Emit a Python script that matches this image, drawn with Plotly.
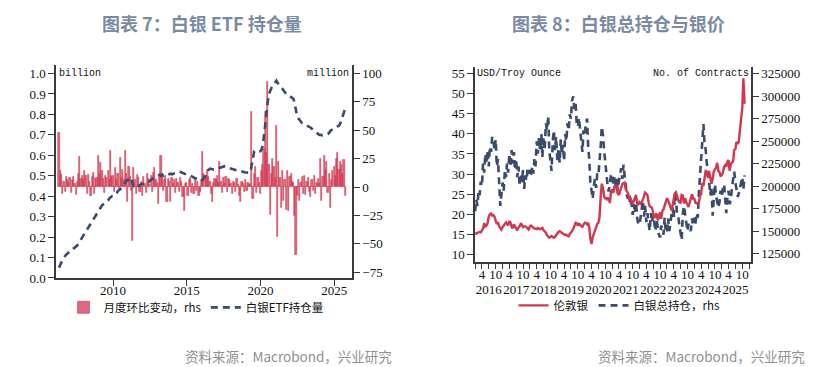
import pandas as pd
import plotly.graph_objects as go

# ---------------- Left chart: silver ETF holdings ----------------
etf_start = "2006-05-01"
# Monthly change of ETF holdings, million oz (rhs)
etf_change = [
    48, 14, 11, -6, 5, -4, 9, 6,
    4, 8, -5, 6, 9, 3, -7, 5, 12, 27, 7, 10,
    6, 14, 10, -6, 11, 5, -8, 9, 13, -6, 7, 8,
    28, 12, 21, 14, 7, -5, 10, 8, 14, 6, 32, 9,
    10, -4, 17, 6, 12, -3, 26, 8, 15, 6, 32, 12,
    -13, 18, 9, -3, -47, 17, 6, -6, 11, 8, -4, 5,
    -8, 9, 3, -5, 12, 7, 2, 10, -4, 13, 17, 6,
    4, -15, 9, 28, 12, -3, 6, 10, -13, 7, 5, -13,
    8, 3, 6, -5, 7, 4, -4, 8, 5, -9, -21, 3,
    4, -8, 6, 8, -5, 3, -6, 7, -3, 5, -8, -4,
    6, 31, 12, 8, 10, 15, 9, 5, -6, -13, 4, 7,
    6, 10, 4, 22, 5, -5, 8, 3, 9, -4, 7, 6,
    3, -6, 5, 4, -4, 7, 2, -8, -13, 5, 3, -4,
    6, -3, 4, 2, 3, 66, -10, 12, 18, -5, 8, 4,
    -6, 14, 20, 34, 66, 30, 93, 20, -24, 12, 25, 18,
    8, 54, -44, 22, 8, -18, 14, -12, 6, -20, 14, -21,
    9, 12, 5, 4, -25, -60, -8, 6, -12, 4, 9, -6,
    10, -7, 5, 8, -4, -9, 6, -3, 10, -6, 4, 7,
    3, 25, -12, 9, 28, 15, 22, -5, 12, -18, 6, 14,
    18, 10, 25, 30, 15, 22, 20, 12, 24, -8,
]
# Silver ETF holdings, billion oz (lhs)
etf_holdings = [
    0.05, 0.065, 0.08, 0.09, 0.10, 0.11, 0.115, 0.12,
    0.125, 0.13, 0.135, 0.14, 0.145, 0.15, 0.155, 0.16, 0.17, 0.18, 0.19, 0.20,
    0.21, 0.22, 0.225, 0.235, 0.245, 0.255, 0.265, 0.275, 0.29, 0.30, 0.31, 0.32,
    0.33, 0.34, 0.345, 0.355, 0.36, 0.365, 0.37, 0.375, 0.38, 0.39, 0.395, 0.40,
    0.40, 0.405, 0.41, 0.415, 0.425, 0.43, 0.435, 0.44, 0.45, 0.46, 0.47, 0.475,
    0.48, 0.48, 0.485, 0.49, 0.455, 0.45, 0.455, 0.46, 0.455, 0.45, 0.455, 0.46,
    0.46, 0.465, 0.465, 0.47, 0.47, 0.47, 0.475, 0.48, 0.485, 0.49, 0.495, 0.50,
    0.50, 0.502, 0.505, 0.50, 0.505, 0.50, 0.505, 0.507, 0.505, 0.507, 0.51, 0.51,
    0.507, 0.51, 0.512, 0.515, 0.515, 0.517, 0.52, 0.518, 0.515, 0.513, 0.51, 0.508,
    0.505, 0.503, 0.50, 0.50, 0.498, 0.495, 0.49, 0.487, 0.485, 0.482, 0.48, 0.477,
    0.475, 0.48, 0.49, 0.50, 0.51, 0.52, 0.53, 0.535, 0.535, 0.532, 0.53, 0.53,
    0.532, 0.535, 0.537, 0.54, 0.54, 0.542, 0.545, 0.547, 0.547, 0.545, 0.54, 0.537,
    0.535, 0.533, 0.53, 0.53, 0.528, 0.526, 0.525, 0.525, 0.522, 0.52, 0.518, 0.517,
    0.516, 0.515, 0.515, 0.515, 0.52, 0.55, 0.59, 0.62, 0.625, 0.625, 0.622, 0.62,
    0.62, 0.63, 0.65, 0.70, 0.76, 0.80, 0.86, 0.90, 0.92, 0.93, 0.94, 0.95,
    0.96, 0.965, 0.955, 0.945, 0.935, 0.93, 0.925, 0.915, 0.905, 0.90, 0.90, 0.895,
    0.89, 0.885, 0.88, 0.875, 0.85, 0.81, 0.79, 0.78, 0.77, 0.762, 0.757, 0.755,
    0.752, 0.748, 0.745, 0.742, 0.738, 0.735, 0.73, 0.725, 0.72, 0.715, 0.71, 0.705,
    0.70, 0.70, 0.698, 0.70, 0.70, 0.70, 0.702, 0.705, 0.71, 0.72, 0.725, 0.73,
    0.735, 0.738, 0.74, 0.742, 0.745, 0.755, 0.77, 0.79, 0.81, 0.83,
]
left_year_ticks = ["2010", "2015", "2020", "2025"]

# ---------------- Right chart: silver price & open interest ----------------
# Semi-monthly (1st & 15th) from 2016-01-01 to 2025-11-01
silver_price = [
    15.3, 15.2, 15.4, 15.5, 15.6, 15.5, 16.0, 16.4, 17.8, 17.0, 17.2, 17.8, 19.5, 20.0, 20.2, 19.7, 19.8, 19.4, 18.4, 17.6, 18.0, 17.0, 16.6, 16.2,
    16.8, 17.2, 17.8, 18.0, 17.6, 17.2, 18.3, 18.0, 16.9, 16.5, 17.5, 17.0, 16.2, 16.0, 16.7, 17.0, 17.8, 17.2, 16.8, 17.0, 17.0, 16.8, 16.4, 16.2,
    17.0, 17.2, 16.9, 16.6, 16.5, 16.4, 16.3, 16.6, 16.4, 16.3, 16.4, 16.6, 16.0, 15.7, 15.4, 14.8, 14.4, 14.2, 14.4, 14.6, 14.3, 14.2, 14.4, 14.8,
    15.5, 15.6, 15.8, 15.6, 15.3, 15.2, 15.0, 14.9, 14.9, 14.6, 14.5, 15.1, 15.4, 15.8, 16.4, 17.2, 17.9, 17.8, 17.2, 17.6, 17.4, 17.0, 16.9, 17.4,
    17.9, 17.8, 17.5, 17.9, 16.8, 14.0, 12.6, 14.2, 15.2, 15.6, 16.8, 17.6, 17.9, 19.2, 24.5, 27.6, 26.5, 24.5, 23.8, 24.2, 23.5, 24.2, 22.8, 25.5,
    26.2, 25.3, 27.0, 27.3, 26.5, 25.2, 24.8, 25.5, 26.5, 27.5, 27.8, 27.9, 26.2, 25.8, 25.2, 23.8, 24.0, 23.2, 22.4, 23.3, 24.3, 24.8, 22.6, 22.5,
    23.0, 22.6, 23.0, 23.6, 24.5, 25.4, 25.0, 24.8, 23.0, 22.0, 21.8, 21.6, 20.3, 19.0, 19.8, 20.2, 18.5, 19.2, 20.5, 18.9, 20.8, 21.2, 22.2, 23.2,
    24.0, 23.5, 22.8, 21.9, 21.0, 21.8, 23.8, 25.2, 25.5, 24.2, 23.5, 23.0, 22.9, 24.8, 24.6, 22.7, 24.0, 23.0, 22.5, 21.8, 23.0, 23.9, 25.0, 23.9,
    23.8, 22.9, 22.7, 22.6, 22.8, 24.6, 25.0, 27.8, 27.0, 28.5, 31.0, 30.2, 29.0, 30.8, 28.5, 27.6, 28.8, 30.6, 31.2, 31.6, 32.8, 30.8, 30.5, 29.4,
    29.8, 30.3, 31.8, 32.2, 31.8, 33.0, 33.5, 30.8, 32.5, 32.8, 33.2, 36.0, 36.2, 38.0, 37.5, 38.1, 41.0, 42.5, 46.5, 53.8, 47.5,
]
# Total open interest, thousand contracts (rhs)
open_interest_k = [
    172, 185, 178, 195, 190, 205, 200, 225, 215, 236, 225, 240, 222, 244, 238, 255, 250, 240, 252, 222, 230, 200, 178, 190,
    204, 195, 218, 210, 225, 215, 236, 222, 240, 225, 238, 218, 230, 210, 222, 200, 214, 205, 218, 197, 212, 206, 220, 214,
    218, 212, 222, 214, 230, 222, 250, 236, 254, 240, 258, 232, 255, 240, 270, 262, 278, 240, 225, 217, 250, 262, 240, 255,
    228, 240, 226, 252, 236, 246, 228, 258, 250, 270, 262, 280, 275, 295, 300, 286, 292, 270, 266, 276, 262, 248, 238, 262,
    256, 270, 275, 245, 230, 205, 195, 186, 200, 208, 198, 214, 212, 225, 245, 266, 256, 240, 225, 210, 200, 194, 206, 212,
    214, 200, 212, 198, 208, 195, 206, 215, 220, 208, 224, 212, 198, 190, 186, 192, 178, 182, 168, 180, 170, 182, 164, 158,
    157, 168, 176, 184, 166, 178, 160, 170, 156, 150, 170, 160, 168, 158, 150, 163, 152, 146, 143, 156, 152, 146, 165, 150,
    148, 164, 150, 160, 166, 176, 165, 192, 183, 170, 165, 155, 148, 140, 170, 178, 168, 158, 150, 158, 154, 150, 164, 156,
    165, 158, 170, 165, 192, 210, 238, 255, 269, 248, 240, 225, 220, 205, 190, 200, 167, 185, 202, 190, 184, 176, 182, 195,
    188, 198, 202, 182, 170, 186, 195, 180, 185, 198, 208, 216, 204, 196, 188, 192, 198, 204, 210, 196, 212,
]
right_years = [str(y) for y in range(2016, 2026)]
month_labels = {1: "", 4: "4", 7: "", 10: "10"}

# ---------------- dates ----------------
etf_dates = pd.date_range(etf_start, periods=len(etf_change), freq="MS")
semi = []
for m in pd.date_range("2016-01-01", "2025-11-01", freq="MS"):
    semi.append(m)
    semi.append(m + pd.Timedelta(days=14))
semi_dates = semi[:len(silver_price)]
oi_values = [v * 1000 for v in open_interest_k]

qtr = pd.date_range("2016-01-01", "2026-01-01", freq="QS")
qtr_text = [month_labels[d.month] for d in qtr]
year_mid = [y + "-07-01" for y in right_years]

RED = "#d0384f"
NAVY = "#3b4b69"
AX = "#3a3a3a"
SERIF = "Liberation Serif"
CJK = "Noto Sans CJK SC"
tickfont = dict(family=SERIF, size=13, color="#111111")

fig = go.Figure()
fig.add_trace(go.Bar(
    x=etf_dates, y=etf_change, name="月度环比变动，rhs",
    marker=dict(color="rgba(212,72,98,0.82)", line=dict(color=RED, width=0.6)),
    width=30 * 86400000, xaxis="x", yaxis="y", legend="legend"))
fig.add_trace(go.Scatter(
    x=etf_dates, y=etf_holdings, name="白银ETF持仓量", mode="lines",
    line=dict(color=NAVY, width=2.6, dash="7px,5px"),
    xaxis="x", yaxis="y2", legend="legend"))
fig.add_trace(go.Scatter(
    x=semi_dates, y=silver_price, name="伦敦银", mode="lines",
    line=dict(color=RED, width=2.4),
    xaxis="x2", yaxis="y4", legend="legend2"))
fig.add_trace(go.Scatter(
    x=semi_dates, y=oi_values, name="白银总持仓，rhs", mode="lines",
    line=dict(color=NAVY, width=2.6, dash="7px,5px"),
    xaxis="x2", yaxis="y3", legend="legend2"))
# invisible carrier so the year-label axis is drawn
fig.add_trace(go.Scatter(
    x=semi_dates, y=oi_values, mode="lines", line=dict(width=0), opacity=0,
    showlegend=False, hoverinfo="skip", xaxis="x3", yaxis="y3"))

axcommon = dict(showline=True, linecolor=AX, linewidth=1.5, ticks="outside",
                tickcolor=AX, tickwidth=1.2, showgrid=False, zeroline=False,
                tickfont=tickfont)

fig.update_layout(
    width=823, height=367, margin=dict(l=0, r=0, t=0, b=0),
    paper_bgcolor="white", plot_bgcolor="white", showlegend=True,
    bargap=0,
    xaxis=dict(domain=[48 / 823, 344 / 823], anchor="y", type="date",
               range=["2006-02-17", "2026-03-20"],
               tickvals=[y + "-01-01" for y in left_year_ticks], ticktext=left_year_ticks,
               ticklen=6, tickangle=0, ticklabelstandoff=-6, **axcommon),
    yaxis=dict(domain=[(367 - 276) / 367, (367 - 58) / 367], anchor="x", side="right",
               range=[-80.2, 107.8], tickvals=[-75, -50, -25, 0, 25, 50, 75, 100],
               ticklen=6, **axcommon),
    yaxis2=dict(overlaying="y", anchor="x", side="left", range=[0, 1.043],
                tickvals=[i / 10 for i in range(11)], tickformat=".1f",
                ticklen=6, **axcommon),
    xaxis2=dict(domain=[467 / 823, 743 / 823], anchor="y3", type="date",
                range=["2015-12-30", "2026-01-25"],
                tickvals=list(qtr), ticktext=qtr_text, ticklen=5, tickangle=0,
                ticklabelstandoff=-6, **axcommon),
    xaxis3=dict(overlaying="x2", anchor="y3", type="date",
                range=["2015-12-30", "2026-01-25"], side="bottom",
                tickvals=year_mid, ticktext=right_years, ticks="", tickangle=0,
                showline=False, showgrid=False, zeroline=False,
                tickfont=tickfont, ticklabelstandoff=18),
    yaxis3=dict(domain=[(367 - 260) / 367, (367 - 60) / 367], anchor="x2", side="right",
                range=[115200, 332900], tickvals=list(range(125000, 325001, 25000)),
                tickformat="d", ticklen=6, **axcommon),
    yaxis4=dict(overlaying="y3", anchor="x2", side="left", range=[8.05, 56.7],
                tickvals=list(range(10, 56, 5)), ticklen=6, **axcommon),
    legend=dict(orientation="h", x=188 / 823, xanchor="center", y=(367 - 306) / 367,
                yanchor="middle", font=dict(family=CJK, size=11.5, color="#111"),
                bgcolor="rgba(0,0,0,0)", itemwidth=30, tracegroupgap=0),
    legend2=dict(orientation="h", x=611 / 823, xanchor="center", y=(367 - 304) / 367,
                 yanchor="middle", font=dict(family=CJK, size=11.5, color="#111"),
                 bgcolor="rgba(0,0,0,0)", itemwidth=30, tracegroupgap=0),
)

title_font = dict(family=CJK, size=18, color="#7a8aa3")
src_font = dict(family=CJK, size=13.5, color="#8f8f8f")
mono = dict(family="Liberation Mono", size=10, color="#111")
ann = [
    dict(text="<b>图表 7：白银 ETF 持仓量</b>", x=194 / 823, y=(367 - 15) / 367, font=title_font,
         xanchor="center", yanchor="middle"),
    dict(text="<b>图表 8：白银总持仓与银价</b>", x=610 / 823, y=(367 - 15) / 367, font=title_font,
         xanchor="center", yanchor="middle"),
    dict(text="billion", x=49 / 823, y=(367 - 67) / 367, font=mono, xanchor="left", yanchor="middle"),
    dict(text="million", x=343 / 823, y=(367 - 67) / 367, font=mono, xanchor="right", yanchor="middle"),
    dict(text="USD/Troy Ounce", x=467 / 823, y=(367 - 67) / 367, font=mono, xanchor="left", yanchor="middle"),
    dict(text="No. of Contracts", x=743 / 823, y=(367 - 67) / 367, font=mono, xanchor="right", yanchor="middle"),
    dict(text="资料来源：Macrobond，兴业研究", x=386 / 823, y=(367 - 356) / 367, font=src_font,
         xanchor="right", yanchor="middle"),
    dict(text="资料来源：Macrobond，兴业研究", x=799 / 823, y=(367 - 356) / 367, font=src_font,
         xanchor="right", yanchor="middle"),
]
for a in ann:
    a.update(xref="paper", yref="paper", showarrow=False)
fig.update_layout(annotations=ann)

fig.write_html("out.html")
